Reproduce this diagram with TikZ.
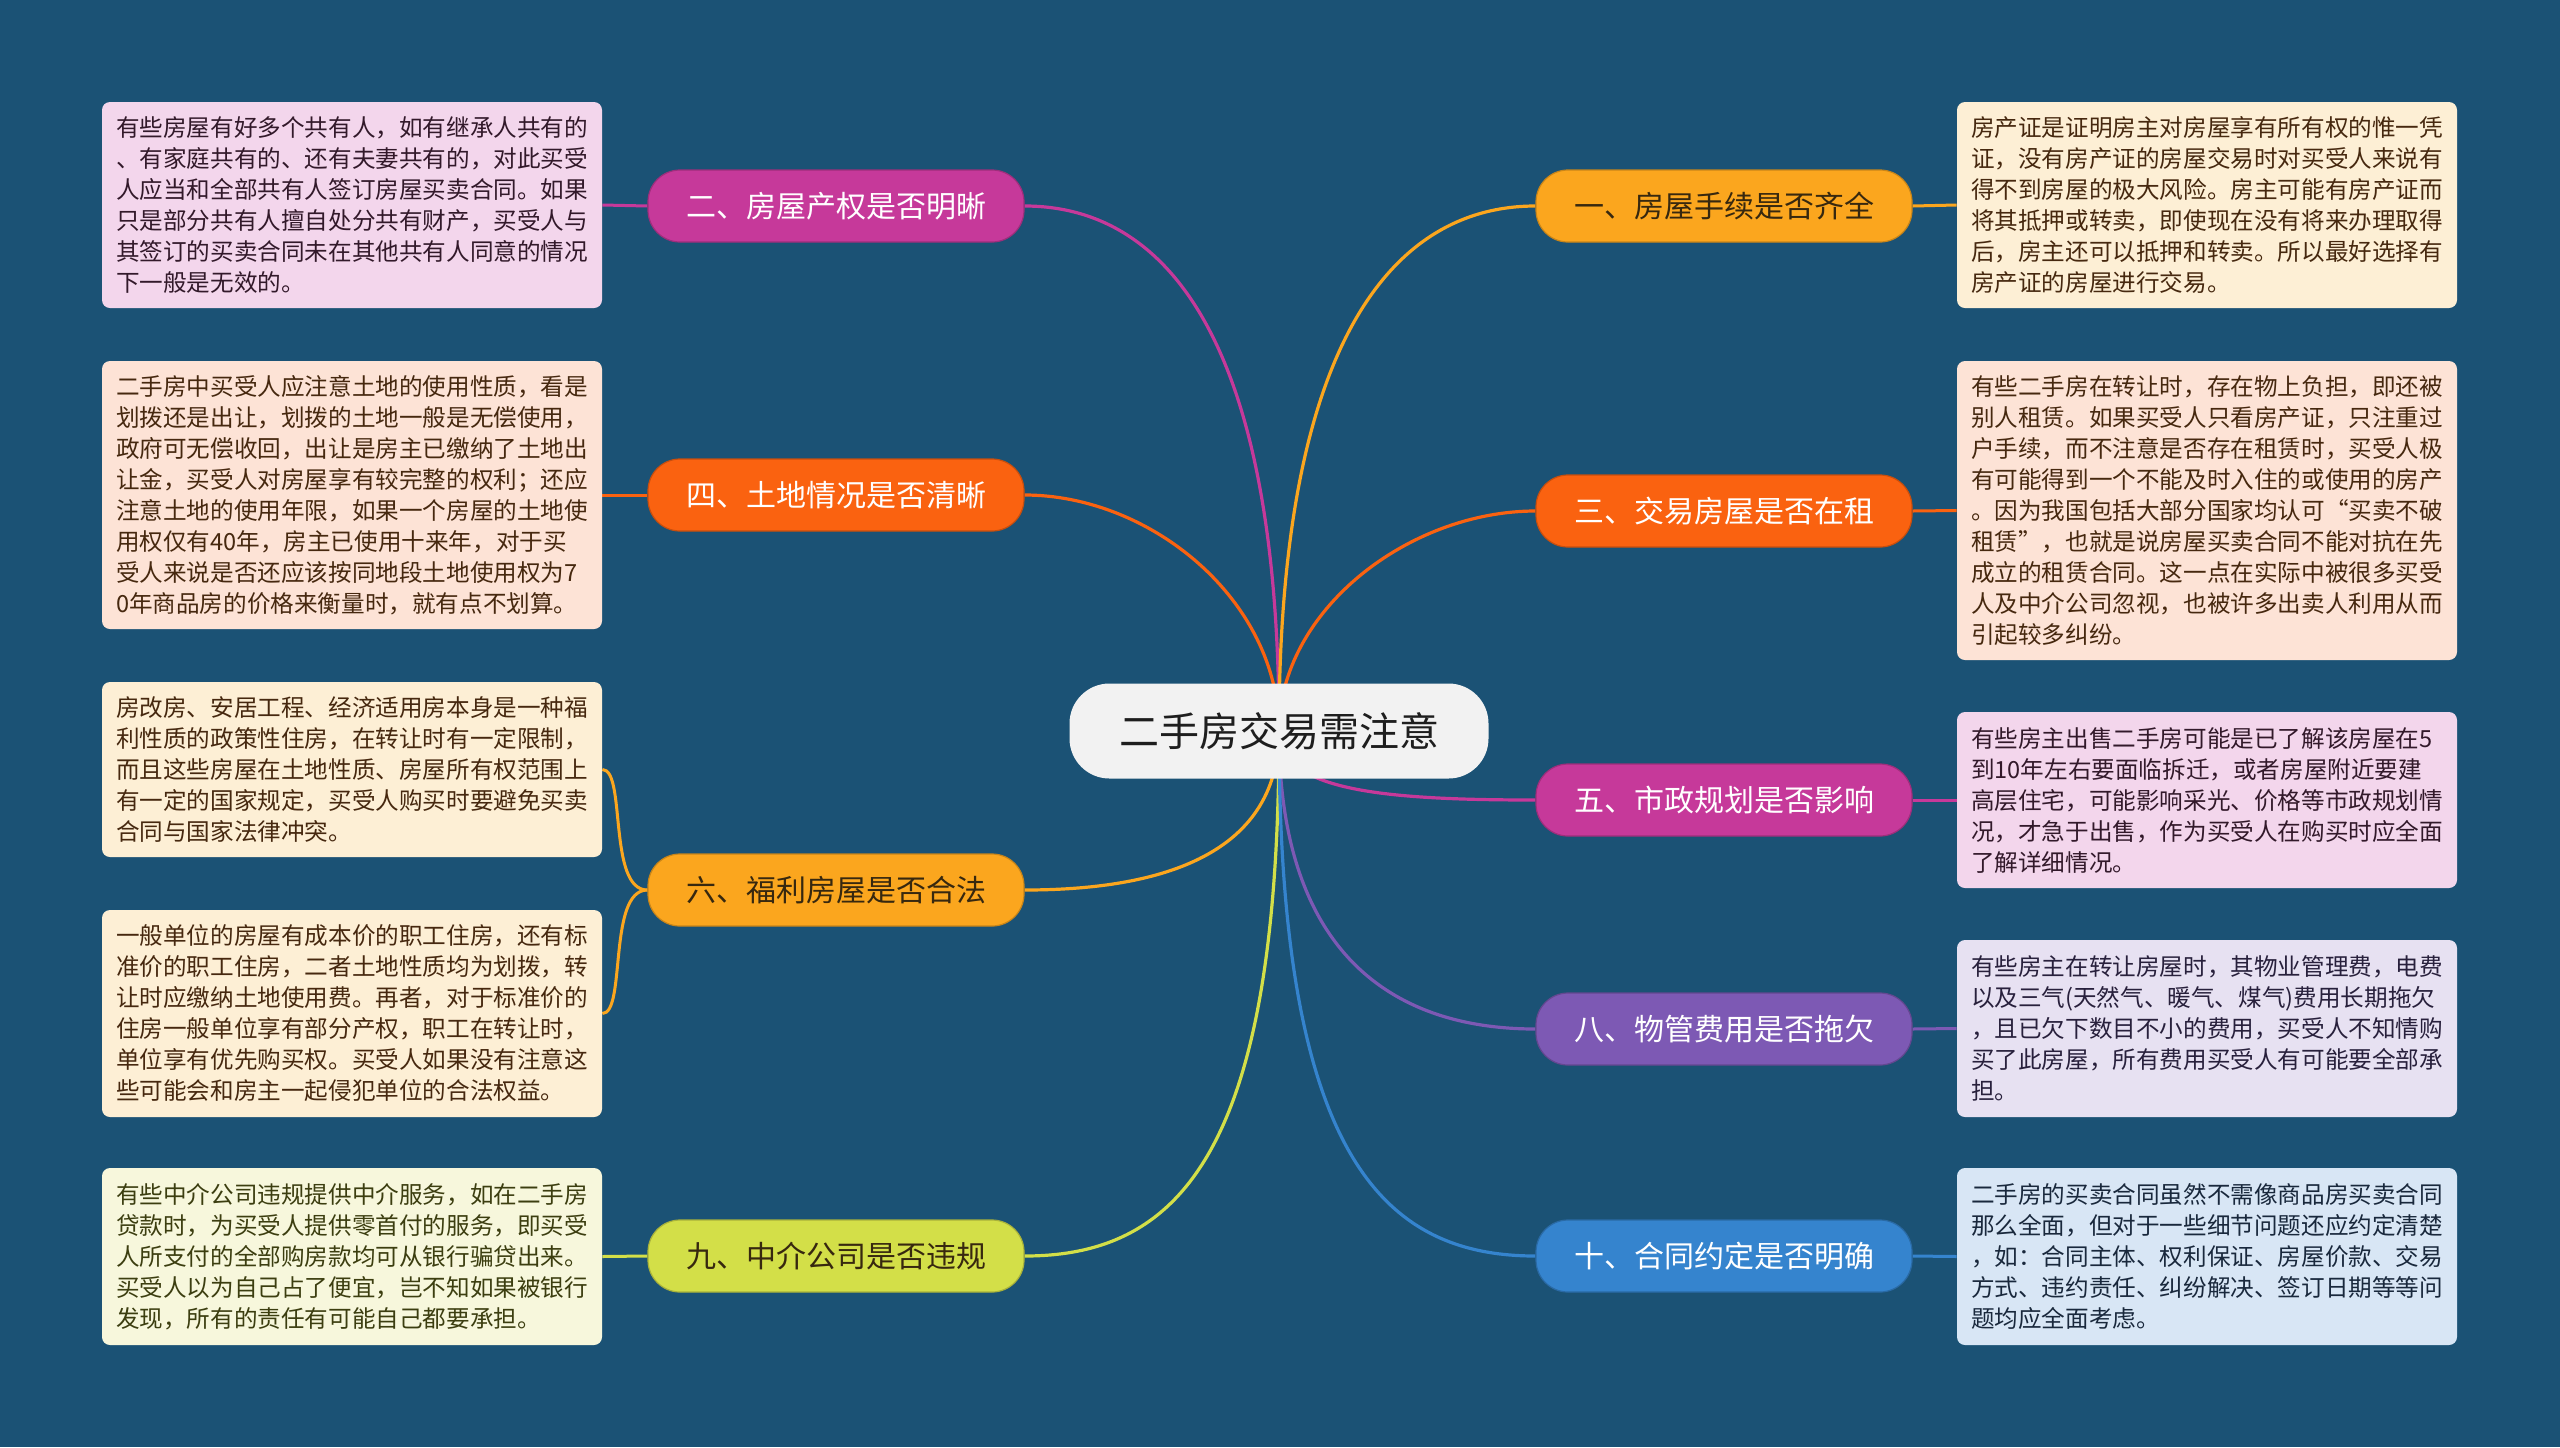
\documentclass[tikz,border=0pt]{standalone}
\usepackage{fontspec}
\setmainfont{Noto Sans CJK SC}
\usetikzlibrary{backgrounds}
\definecolor{bg}{RGB}{27,82,117}
\definecolor{cmag}{RGB}{198,57,154}
\definecolor{corg}{RGB}{250,98,16}
\definecolor{cgold}{RGB}{251,166,30}
\definecolor{cyg}{RGB}{211,223,72}
\definecolor{cpur}{RGB}{125,89,180}
\definecolor{cblu}{RGB}{53,132,206}
\definecolor{fpink}{RGB}{243,214,236}
\definecolor{fpeach}{RGB}{253,227,214}
\definecolor{fcream}{RGB}{253,239,213}
\definecolor{fyel}{RGB}{247,247,220}
\definecolor{flav}{RGB}{231,225,242}
\definecolor{fblu}{RGB}{216,230,245}
\definecolor{tpink}{RGB}{50,25,42}
\definecolor{tbrown}{RGB}{70,40,15}
\definecolor{tolive}{RGB}{60,62,16}
\definecolor{tlav}{RGB}{40,32,60}
\definecolor{tblu}{RGB}{25,40,60}
\definecolor{tdark}{RGB}{55,40,15}
\definecolor{cfill}{RGB}{242,242,242}
\begin{document}
\begin{tikzpicture}[x=0.5pt,y=-0.5pt,
  box/.style={rounded corners=4pt, minimum width=250pt, align=left,
    font=\fontsize{11.8}{15.5}\selectfont, inner sep=0pt},
  pill/.style={rounded corners=16pt, minimum width=188pt, minimum height=36pt,
    font=\fontsize{15}{18}\selectfont, inner sep=0pt, line width=0.6pt},
  link/.style={line width=1.6pt},
  short/.style={line width=1.5pt},
]
\begin{pgfonlayer}{background}
\fill[bg] (0,0) rectangle (2560,1447);
\end{pgfonlayer}
\useasboundingbox (0,0) rectangle (2560,1447);

% central topic
\node[fill=cfill, rounded corners=20pt, minimum width=209.5pt, minimum height=47.5pt,
  font=\fontsize{20}{24}\selectfont, text={rgb,255:red,30;green,30;blue,30}] (c) at (1279,731) {二手房交易需注意};

% branch pills
\node[pill, fill=cmag, draw=cmag!80!black, text=white] (p2) at (836,206) {二、房屋产权是否明晰};
\node[pill, fill=corg, draw=corg!80!black, text=white] (p4) at (836,495) {四、土地情况是否清晰};
\node[pill, fill=cgold, draw=cgold!80!black, text=tdark] (p6) at (836,890) {六、福利房屋是否合法};
\node[pill, fill=cyg, draw=cyg!80!black, text=tdark] (p9) at (836,1256) {九、中介公司是否违规};
\node[pill, fill=cgold, draw=cgold!80!black, text=tdark] (p1) at (1724,206) {一、房屋手续是否齐全};
\node[pill, fill=corg, draw=corg!80!black, text=white] (p3) at (1724,511) {三、交易房屋是否在租};
\node[pill, fill=cmag, draw=cmag!80!black, text=white] (p5) at (1724,800) {五、市政规划是否影响};
\node[pill, fill=cpur, draw=cpur!80!black, text=white] (p8) at (1724,1029) {八、物管费用是否拖欠};
\node[pill, fill=cblu, draw=cblu!80!black, text=white] (p10) at (1724,1256) {十、合同约定是否明确};

% detail boxes, left
\node[box, fill=fpink, text=tpink, minimum height=103pt] (b2) at (352,205) {有些房屋有好多个共有人，如有继承人共有的\\、有家庭共有的、还有夫妻共有的，对此买受\\人应当和全部共有人签订房屋买卖合同。如果\\只是部分共有人擅自处分共有财产，买受人与\\其签订的买卖合同未在其他共有人同意的情况\\下一般是无效的。};
\node[box, fill=fpeach, text=tbrown, minimum height=134pt] (b4) at (352,495) {二手房中买受人应注意土地的使用性质，看是\\划拨还是出让，划拨的土地一般是无偿使用，\\政府可无偿收回，出让是房主已缴纳了土地出\\让金，买受人对房屋享有较完整的权利；还应\\注意土地的使用年限，如果一个房屋的土地使\\用权仅有40年，房主已使用十来年，对于买\\受人来说是否还应该按同地段土地使用权为7\\0年商品房的价格来衡量时，就有点不划算。};
\node[box, fill=fcream, text=tbrown, minimum height=87.5pt] (b6a) at (352,769.5) {房改房、安居工程、经济适用房本身是一种福\\利性质的政策性住房，在转让时有一定限制，\\而且这些房屋在土地性质、房屋所有权范围上\\有一定的国家规定，买受人购买时要避免买卖\\合同与国家法律冲突。};
\node[box, fill=fcream, text=tbrown, minimum height=103.5pt] (b6b) at (352,1013.5) {一般单位的房屋有成本价的职工住房，还有标\\准价的职工住房，二者土地性质均为划拨，转\\让时应缴纳土地使用费。再者，对于标准价的\\住房一般单位享有部分产权，职工在转让时，\\单位享有优先购买权。买受人如果没有注意这\\些可能会和房主一起侵犯单位的合法权益。};
\node[box, fill=fyel, text=tolive, minimum height=88.5pt] (b9) at (352,1256.5) {有些中介公司违规提供中介服务，如在二手房\\贷款时，为买受人提供零首付的服务，即买受\\人所支付的全部购房款均可从银行骗贷出来。\\买受人以为自己占了便宜，岂不知如果被银行\\发现，所有的责任有可能自己都要承担。};

% detail boxes, right
\node[box, fill=fcream, text=tbrown, minimum height=103pt] (b1) at (2207,205) {房产证是证明房主对房屋享有所有权的惟一凭\\证，没有房产证的房屋交易时对买受人来说有\\得不到房屋的极大风险。房主可能有房产证而\\将其抵押或转卖，即使现在没有将来办理取得\\后，房主还可以抵押和转卖。所以最好选择有\\房产证的房屋进行交易。};
\node[box, fill=fpeach, text=tbrown, minimum height=149.5pt] (b3) at (2207,510.5) {有些二手房在转让时，存在物上负担，即还被\\别人租赁。如果买受人只看房产证，只注重过\\户手续，而不注意是否存在租赁时，买受人极\\有可能得到一个不能及时入住的或使用的房产\\。因为我国包括大部分国家均认可“买卖不破\\租赁”，也就是说房屋买卖合同不能对抗在先\\成立的租赁合同。这一点在实际中被很多买受\\人及中介公司忽视，也被许多出卖人利用从而\\引起较多纠纷。};
\node[box, fill=fpink, text=tpink, minimum height=88pt] (b5) at (2207,800) {有些房主出售二手房可能是已了解该房屋在5\\到10年左右要面临拆迁，或者房屋附近要建\\高层住宅，可能影响采光、价格等市政规划情\\况，才急于出售，作为买受人在购买时应全面\\了解详细情况。};
\node[box, fill=flav, text=tlav, minimum height=88.5pt] (b8) at (2207,1028.5) {有些房主在转让房屋时，其物业管理费，电费\\以及三气(天然气、暖气、煤气)费用长期拖欠\\，且已欠下数目不小的费用，买受人不知情购\\买了此房屋，所有费用买受人有可能要全部承\\担。};
\node[box, fill=fblu, text=tblu, minimum height=88.5pt] (b10) at (2207,1256.5) {二手房的买卖合同虽然不需像商品房买卖合同\\那么全面，但对于一些细节问题还应约定清楚\\，如：合同主体、权利保证、房屋价款、交易\\方式、违约责任、纠纷解决、签订日期等等问\\题均应全面考虑。};

% connectors (behind nodes)
\begin{pgfonlayer}{background}
\draw[link, cmag] (c.center) .. controls +(0,-401) and +(136,0) .. (p2.east);
\draw[link, cgold] (c.center) .. controls +(0,-401) and +(-136,0) .. (p1.west);
\draw[link, corg] (c.center) .. controls +(0,-131) and +(126,0) .. (p4.east);
\draw[link, corg] (c.center) .. controls +(0,-121) and +(-126,0) .. (p3.west);
\draw[link, cmag] (c.center) .. controls +(0,59) and +(-156,0) .. (p5.west);
\draw[link, cgold] (c.center) .. controls +(0,129) and +(126,0) .. (p6.east);
\draw[link, cpur] (c.center) .. controls +(0,229) and +(-136,0) .. (p8.west);
\draw[link, cyg] (c.center) .. controls +(0,419) and +(156,0) .. (p9.east);
\draw[link, cblu] (c.center) .. controls +(0,419) and +(-156,0) .. (p10.west);

\draw[short, cmag] (p2.west) -- (b2.east);
\draw[short, corg] (p4.west) -- (b4.east);
\draw[short, cgold] (p6.west) .. controls +(-40,0) and +(24,0) .. (b6a.east);
\draw[short, cgold] (p6.west) .. controls +(-40,0) and +(24,0) .. (b6b.east);
\draw[short, cyg] (p9.west) -- (b9.east);
\draw[short, cgold] (p1.east) -- (b1.west);
\draw[short, corg] (p3.east) -- (b3.west);
\draw[short, cmag] (p5.east) -- (b5.west);
\draw[short, cpur] (p8.east) -- (b8.west);
\draw[short, cblu] (p10.east) -- (b10.west);
\end{pgfonlayer}
\end{tikzpicture}
\end{document}
